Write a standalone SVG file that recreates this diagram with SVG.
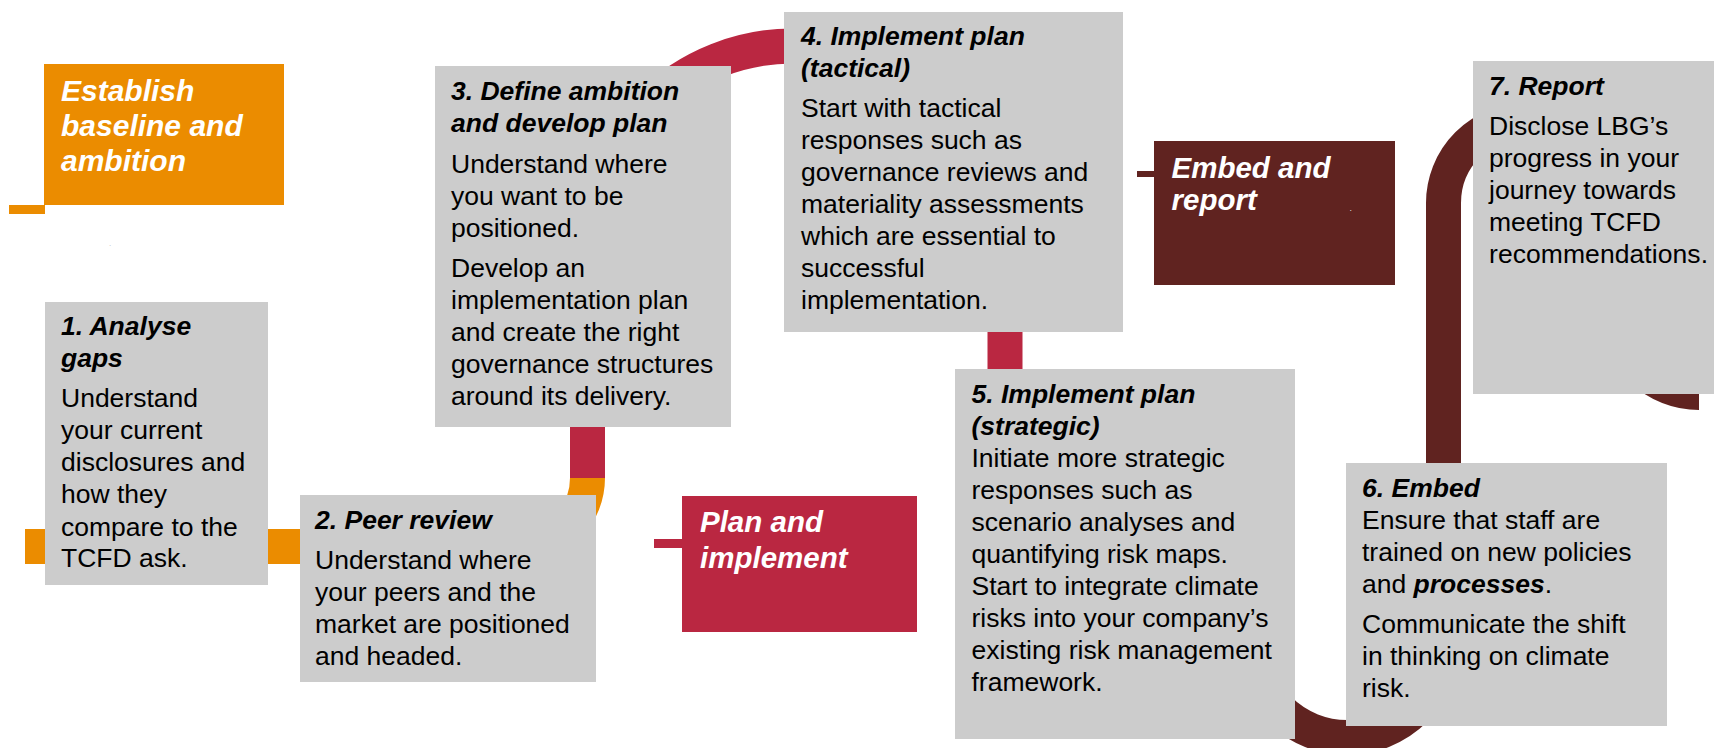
<svg xmlns="http://www.w3.org/2000/svg" width="1714" height="748" viewBox="0 0 1714 748">
  <style>
    .card { fill: #CCCCCC; }
    .txt { font-family: "Liberation Sans", Arial, sans-serif; font-size: 26.5px; fill: #000; }
    .hd { font-weight: bold; font-style: italic; }
    .phase { font-family: "Liberation Sans", Arial, sans-serif; font-weight: bold; font-style: italic; fill: #FFFFFF; }
    .band { fill: none; stroke-width: 35; stroke-linecap: butt; stroke-linejoin: round; }
    .orange { fill: #EB8C00; }
    .red { fill: #BA2741; }
    .maroon { fill: #602320; }
  </style>

  <rect width="1714" height="748" fill="#FFFFFF"/>

  <!-- journey bands running behind the cards -->
  <g id="connectors">
    <path class="band" stroke="#EB8C00" d="M 25 546.5 H 519 A 68.5 68.5 0 0 0 587.5 478"/>
    <path class="band" stroke="#BA2741" d="M 587.5 478 V 251.3 A 205.3 205.3 0 0 1 792.8 46 H 920 A 85 85 0 0 1 1005 131 V 420"/>
    <path class="band" stroke="#602320" d="M 1250.5 600 V 641 A 96.5 96.5 0 0 0 1443.5 641 V 203 A 82.5 82.5 0 0 1 1526 120.5 H 1534 A 82.5 82.5 0 0 1 1616.5 203 V 310 A 82.5 82.5 0 0 0 1699 392.5"/>
  </g>

  <!-- phase labels -->
  <g id="phase-establish">
    <rect class="orange" x="9" y="205" width="36" height="9"/>
    <rect class="orange" x="44" y="64" width="240" height="141"/>
    <text class="phase" font-size="30" x="61" y="101">Establish</text>
    <text class="phase" font-size="30" x="61" y="136">baseline and</text>
    <text class="phase" font-size="30" x="61" y="171">ambition</text>
    <text x="109" y="246" font-family="Liberation Sans, sans-serif" font-size="8" fill="#BBBBBB">.</text>
  </g>

  <g id="phase-plan">
    <rect class="red" x="654" y="539" width="28" height="9"/>
    <rect class="red" x="682" y="496" width="235" height="136"/>
    <text class="phase" font-size="29.5" x="700" y="531.5">Plan and</text>
    <text class="phase" font-size="29.5" x="700" y="567.5">implement</text>
  </g>

  <g id="phase-embed">
    <rect class="maroon" x="1137" y="171" width="17" height="6"/>
    <rect class="maroon" x="1154" y="141" width="241" height="144"/>
    <text class="phase" font-size="29.5" x="1171.5" y="177.5">Embed and</text>
    <text class="phase" font-size="29.5" x="1171.5" y="210">report</text>
    <text x="1349.5" y="210.5" font-family="Liberation Sans, sans-serif" font-size="9" fill="#DDDDDD">.</text>
  </g>

  <!-- step cards -->
  <g id="step-1">
    <rect class="card" x="45" y="302" width="223" height="283"/>
    <text class="txt">
      <tspan class="hd" x="61" y="335">1. Analyse</tspan>
      <tspan class="hd" x="61" y="366.5">gaps</tspan>
      <tspan x="61" y="407">Understand</tspan>
      <tspan x="61" y="439">your current</tspan>
      <tspan x="61" y="471">disclosures and</tspan>
      <tspan x="61" y="503">how they</tspan>
      <tspan x="61" y="535.5">compare to the</tspan>
      <tspan x="61" y="567">TCFD ask.</tspan>
    </text>
  </g>

  <g id="step-2">
    <rect class="card" x="300" y="495" width="296" height="187"/>
    <text class="txt">
      <tspan class="hd" x="315" y="529">2. Peer review</tspan>
      <tspan x="315" y="569">Understand where</tspan>
      <tspan x="315" y="601">your peers and the</tspan>
      <tspan x="315" y="633">market are positioned</tspan>
      <tspan x="315" y="665">and headed.</tspan>
    </text>
  </g>

  <g id="step-3">
    <rect class="card" x="435" y="66" width="296" height="361"/>
    <text class="txt">
      <tspan class="hd" x="451" y="100">3. Define ambition</tspan>
      <tspan class="hd" x="451" y="132">and develop plan</tspan>
      <tspan x="451" y="172.5">Understand where</tspan>
      <tspan x="451" y="204.5">you want to be</tspan>
      <tspan x="451" y="236.5">positioned.</tspan>
      <tspan x="451" y="276.5">Develop an</tspan>
      <tspan x="451" y="308.5">implementation plan</tspan>
      <tspan x="451" y="340.5">and create the right</tspan>
      <tspan x="451" y="372.5">governance structures</tspan>
      <tspan x="451" y="404.5">around its delivery.</tspan>
    </text>
  </g>

  <g id="step-4">
    <rect class="card" x="784" y="12" width="339" height="320"/>
    <text class="txt">
      <tspan class="hd" x="801" y="45">4. Implement plan</tspan>
      <tspan class="hd" x="801" y="77">(tactical)</tspan>
      <tspan x="801" y="117">Start with tactical</tspan>
      <tspan x="801" y="149">responses such as</tspan>
      <tspan x="801" y="181">governance reviews and</tspan>
      <tspan x="801" y="213">materiality assessments</tspan>
      <tspan x="801" y="245">which are essential to</tspan>
      <tspan x="801" y="277">successful</tspan>
      <tspan x="801" y="309">implementation.</tspan>
    </text>
  </g>

  <g id="step-5">
    <rect class="card" x="955" y="369" width="340" height="370"/>
    <text class="txt">
      <tspan class="hd" x="971.5" y="402.5">5. Implement plan</tspan>
      <tspan class="hd" x="971.5" y="434.5">(strategic)</tspan>
      <tspan x="971.5" y="466.5">Initiate more strategic</tspan>
      <tspan x="971.5" y="498.5">responses such as</tspan>
      <tspan x="971.5" y="530.5">scenario analyses and</tspan>
      <tspan x="971.5" y="562.5">quantifying risk maps.</tspan>
      <tspan x="971.5" y="594.5">Start to integrate climate</tspan>
      <tspan x="971.5" y="626.5">risks into your company’s</tspan>
      <tspan x="971.5" y="658.5">existing risk management</tspan>
      <tspan x="971.5" y="690.5">framework.</tspan>
    </text>
  </g>

  <g id="step-6">
    <rect class="card" x="1346" y="463" width="321" height="263"/>
    <text class="txt">
      <tspan class="hd" x="1362" y="497">6. Embed</tspan>
      <tspan x="1362" y="529">Ensure that staff are</tspan>
      <tspan x="1362" y="561">trained on new policies</tspan>
      <tspan x="1362" y="593">and <tspan class="hd">processes</tspan>.</tspan>
      <tspan x="1362" y="632.5">Communicate the shift</tspan>
      <tspan x="1362" y="664.5">in thinking on climate</tspan>
      <tspan x="1362" y="696.5">risk.</tspan>
    </text>
  </g>

  <g id="step-7">
    <rect class="card" x="1473" y="61" width="241" height="333"/>
    <text class="txt">
      <tspan class="hd" x="1489" y="95">7. Report</tspan>
      <tspan x="1489" y="135">Disclose LBG’s</tspan>
      <tspan x="1489" y="167">progress in your</tspan>
      <tspan x="1489" y="199">journey towards</tspan>
      <tspan x="1489" y="231">meeting TCFD</tspan>
      <tspan x="1489" y="263" textLength="219">recommendations.</tspan>
    </text>
  </g>
</svg>
